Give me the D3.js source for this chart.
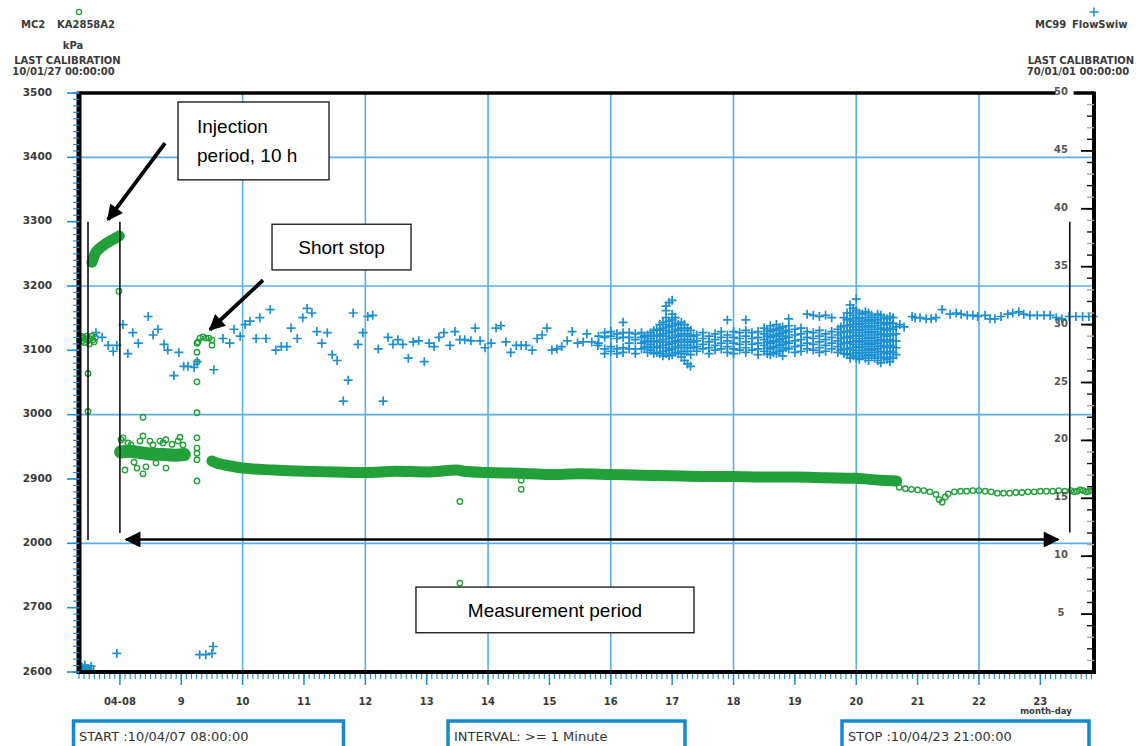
<!DOCTYPE html>
<html>
<head>
<meta charset="utf-8">
<script src="https://cdn.jsdelivr.net/npm/d3@7"></script>
<style>
body{margin:0;background:#fff}
svg{display:block}
</style>
</head>
<body>
<svg id="chart" width="1136" height="746"></svg>
<script>
// axis ticks / labels
var dayTicks = [8, 9, 10, 11, 12, 13, 14, 15, 16, 17, 18, 19, 20, 21, 22, 23];
var dayLabels = ["04-08", "9", "10", "11", "12", "13", "14", "15", "16", "17", "18", "19", "20", "21", "22", "23"];
var gridDays = [10, 12, 14, 16, 18, 20, 22];
var leftTicks = [2600, 2700, 2800, 2900, 3000, 3100, 3200, 3300, 3400, 3500];
var leftLabels = ["2600", "2700", "2000", "2900", "3000", "3100", "3200", "3300", "3400", "3500"];
var gridKpa = [2800, 3000, 3200, 3400];
var rightTicks = [5, 10, 15, 20, 25, 30, 35, 40, 45, 50];

// pressure, kPa (green) - dense bands
var injDays = [7.545, 7.594, 7.676, 7.757, 7.839, 7.920, 7.99];
var injKpa  = [3237, 3250, 3259, 3265, 3270, 3274, 3278];
var postDays = [8.01, 8.15, 8.33, 8.5, 8.7, 8.9, 9.05];
var postKpa  = [2942, 2943, 2941, 2939, 2938, 2937, 2938];
var mainDays = [9.50, 9.6, 9.75, 10.0, 10.5, 11.0, 11.5, 12.0, 12.5, 13.0, 13.5, 13.6, 14.0, 14.5, 15.0, 15.5, 16.0, 16.5, 17.0, 17.5, 18.0, 18.5, 19.0, 19.5, 20.0, 20.4, 20.66];
var mainKpa  = [2928, 2924, 2921, 2917, 2914, 2912, 2911, 2910, 2912, 2911, 2914, 2912, 2910, 2909, 2907, 2908, 2907, 2906, 2905, 2904, 2904, 2903, 2903, 2902, 2901, 2898, 2897];

// pressure, kPa (green) - single readings
var greenDays = [7.34, 7.36, 7.38, 7.40, 7.42, 7.44, 7.46, 7.48, 7.50, 7.52, 7.54, 7.56, 7.58, 7.60,
  7.35, 7.38, 7.42, 7.46, 7.50, 7.53, 7.48, 7.48, 7.985,
  8.018, 8.050, 8.083, 8.132, 8.181, 8.230, 8.279, 8.327, 8.376, 8.376, 8.425, 8.490, 8.539, 8.588, 8.654, 8.702, 8.751, 8.751, 8.800, 8.849, 8.947, 8.979, 9.028, 8.376,
  9.256, 9.256, 9.256, 9.256, 9.256, 9.256, 9.256, 9.256, 9.256, 9.256,
  9.273, 9.305, 9.354, 9.403, 9.452, 9.501, 9.501,
  13.54, 13.54, 14.54, 14.54,
  20.7, 20.8, 20.9, 21.0, 21.1, 21.2, 21.3, 21.35, 21.4, 21.45, 21.5, 21.6, 21.7, 21.8, 21.9, 22.0, 22.1, 22.2, 22.3, 22.4, 22.5, 22.6, 22.7, 22.8, 22.9, 23.0, 23.1, 23.2, 23.3, 23.4, 23.5, 23.55, 23.6, 23.65, 23.7, 23.75, 23.8, 23.85];
var greenKpa = [3117, 3122, 3114, 3120, 3112, 3118, 3122, 3115, 3110, 3118, 3122, 3116, 3113, 3120,
  2603, 2605, 2602, 2604, 2603, 2606, 3064, 3005, 3192,
  2961, 2964, 2914, 2956, 2953, 2926, 2917, 2959, 2967, 2908, 2919, 2959, 2953, 2925, 2959, 2956, 2961, 2917, 2933, 2954, 2959, 2965, 2953, 2996,
  2897, 2930, 2940, 2948, 2964, 3003, 3051, 3082, 3097, 3111,
  3113, 3119, 3121, 3119, 3119, 3116, 3108,
  2865, 2738, 2898, 2884,
  2887, 2885, 2884, 2883, 2882, 2880, 2876, 2868, 2864, 2872, 2877, 2880, 2881, 2881, 2882, 2882, 2881, 2880, 2878, 2878, 2878, 2879, 2879, 2880, 2880, 2881, 2881, 2881, 2882, 2881, 2882, 2880, 2881, 2883, 2882, 2880, 2881, 2882];

// flow (blue) - single readings
var blueDays = [7.38, 7.43, 7.48, 7.53, 7.95, 9.30, 9.40, 9.50, 9.52,
  7.61, 7.71, 7.81, 7.89, 7.95, 8.05, 8.13, 8.21, 8.30, 8.46, 8.54, 8.62, 8.72, 8.78, 8.88, 8.96, 9.04, 9.11, 9.21, 9.26,
  9.53, 9.68, 9.79, 9.86, 9.96, 10.04, 10.12, 10.22, 10.28, 10.38, 10.45, 10.54, 10.63, 10.72, 10.79, 10.89,
  10.98, 11.05, 11.13, 11.21, 11.29, 11.38, 11.46, 11.54, 11.64, 11.72, 11.80, 11.88, 11.96, 12.04, 12.12, 12.21, 12.29, 12.37, 12.45, 12.53, 12.61, 12.70, 12.78, 12.87, 12.96,
  13.04, 13.12, 13.20, 13.28, 13.38, 13.46, 13.54, 13.62, 13.72, 13.79, 13.87, 13.95, 14.05, 14.13, 14.21, 14.29, 14.37, 14.46, 14.54, 14.62, 14.72, 14.80, 14.88, 14.96,
  15.04, 15.12, 15.20, 15.29, 15.37, 15.46, 15.55, 15.61, 15.69, 15.79,
  20.71, 20.78, 20.91, 20.96, 21.04, 21.14, 21.22, 21.30, 21.40, 21.53, 21.63, 21.71, 21.81, 21.90, 21.98, 22.10, 22.18, 22.26, 22.36, 22.47, 22.55, 22.65, 22.73, 22.83, 22.95, 23.06, 23.16, 23.26, 23.35, 23.47, 23.58, 23.69, 23.79, 23.86];
var blueFlow = [0.4, 0.6, 0.3, 0.5, 1.6, 1.5, 1.5, 1.6, 2.2,
  29.3, 28.9, 28.2, 27.7, 28.2, 30.0, 27.5, 29.3, 28.4, 30.7, 29.1, 29.6, 28.3, 27.8, 25.6, 27.6, 26.4, 26.4, 26.3, 26.8,
  26.1, 28.8, 28.4, 29.6, 29.0, 30.0, 30.3, 28.8, 30.6, 28.8, 31.3, 27.8, 28.1, 28.1, 29.7, 28.8,
  30.6, 31.4, 31.0, 29.4, 28.4, 29.3, 27.4, 26.9, 23.4, 25.2, 31.0, 28.3, 29.3, 30.7, 30.8, 27.9, 23.4, 28.9, 28.3, 28.7, 28.3, 27.1, 28.5, 28.6, 26.8,
  28.4, 28.1, 28.9, 29.3, 28.2, 29.4, 28.7, 28.7, 28.6, 29.7, 28.6, 28.0, 28.4, 29.7, 29.9, 28.5, 27.6, 28.2, 28.2, 28.2, 27.8, 28.8, 29.1, 29.7,
  27.8, 27.9, 28.1, 28.6, 29.4, 28.4, 28.5, 29.2, 28.5, 28.2,
  30.0, 29.8, 30.7, 30.6, 30.6, 30.5, 30.5, 30.6, 31.3, 30.9, 31.0, 30.9, 30.8, 30.8, 30.7, 30.8, 30.5, 30.5, 30.7, 30.9, 31.0, 31.1, 30.9, 30.8, 30.8, 30.8, 30.8, 30.6, 30.5, 30.7, 30.7, 30.7, 30.7, 30.7];

// flow (blue) - dense period, several readings per time step
var denseDays = [15.8, 15.9, 16.0, 16.1, 16.2, 16.3, 16.4, 16.5, 16.55,
  16.6, 16.65, 16.7, 16.75, 16.8, 16.85, 16.9, 16.95, 17.0, 17.05, 17.1, 17.15, 17.2, 17.25, 17.3, 17.35,
  17.4, 17.5, 17.6, 17.7, 17.8, 17.9, 18.0, 18.1, 18.2, 18.3, 18.4, 18.5, 18.55, 18.6, 18.65, 18.7, 18.75, 18.8, 18.85, 18.9,
  19.0, 19.1, 19.2, 19.3, 19.4, 19.5, 19.6, 19.7, 19.75,
  19.8, 19.85, 19.9, 19.95, 20.0, 20.05, 20.1, 20.15, 20.2, 20.25, 20.3, 20.35, 20.4, 20.45, 20.5, 20.55, 20.6, 20.65];
var denseFlow = [
  [29.0, 28.4], [29.3, 28.9, 27.9, 27.5], [29.4, 29.0, 28.1, 27.7], [29.2, 28.8, 27.9, 27.5], [30.2, 29.3, 28.9, 28.0, 27.6],
  [29.3, 28.9, 28.4, 27.9], [29.2, 28.7, 27.9, 27.5], [29.3, 28.9, 28.4, 27.9], [29.0, 28.5, 28.0],
  [29.1, 28.6, 28.1, 27.6], [29.3, 28.8, 28.3, 27.8], [29.5, 29.0, 28.5, 28.0, 27.5], [29.6, 29.1, 28.6, 28.1, 27.6],
  [30.0, 29.5, 29.0, 28.5, 28.0, 27.5], [30.2, 29.7, 29.2, 28.7, 28.2, 27.7, 27.3],
  [31.6, 31.2, 30.6, 30.0, 29.5, 29.0, 28.5, 28.0, 27.5], [31.9, 30.3, 29.8, 29.3, 28.8, 28.3, 27.8, 27.3],
  [32.1, 30.9, 30.4, 29.9, 29.4, 28.9, 28.4, 27.9, 27.4], [30.6, 30.1, 29.6, 29.1, 28.6, 28.1, 27.6],
  [30.0, 29.5, 29.0, 28.5, 28.0, 27.5], [30.2, 29.7, 29.2, 28.7, 28.2, 27.7, 27.2], [30.0, 29.5, 29.0, 28.5, 28.0, 27.5, 26.9],
  [29.7, 29.2, 28.7, 28.2, 27.7, 26.6], [29.5, 29.0, 28.5, 28.0, 27.4, 26.4], [29.0, 28.5, 28.0],
  [29.1, 28.6, 28.1, 27.7], [29.3, 28.8, 28.3, 27.9], [29.0, 28.5, 28.0, 27.5], [29.2, 28.7, 28.2, 27.8], [29.4, 28.9, 28.4, 27.9],
  [30.4, 29.1, 28.6, 28.1, 27.6], [29.4, 28.9, 28.4, 27.9, 27.5], [29.3, 28.8, 28.3, 27.8], [30.4, 29.5, 29.0, 28.5, 28.0, 27.6],
  [29.3, 28.8, 28.3, 27.8], [29.4, 28.9, 28.4, 27.9, 27.4], [29.7, 29.2, 28.7, 28.2, 27.7], [29.5, 29.0, 28.5, 28.0, 27.5],
  [29.9, 29.4, 28.9, 28.4, 27.9, 27.4], [29.6, 29.1, 28.6, 28.1, 27.6], [30.0, 29.5, 29.0, 28.5, 28.0, 27.5],
  [29.7, 29.2, 28.7, 28.2, 27.7], [29.8, 29.3, 28.8, 28.3, 27.8, 27.3], [29.5, 29.0, 28.5, 28.0], [30.5, 29.9, 29.4, 28.9, 28.4, 27.9],
  [29.6, 29.1, 28.6, 28.1, 27.6], [29.7, 29.2, 28.7, 28.2, 27.7], [30.9, 29.4, 28.9, 28.4, 27.9], [30.8, 29.3, 28.8, 28.3, 27.8],
  [30.7, 29.5, 29.0, 28.5, 28.0, 27.6], [30.8, 29.2, 28.7, 28.2, 27.7], [30.6, 29.4, 28.9, 28.4, 27.9], [29.6, 29.1, 28.6, 28.1, 27.6],
  [29.8, 29.3, 28.8, 28.3, 27.8],
  [30.6, 29.9, 29.4, 28.9, 28.4, 27.9, 27.5], [31.0, 30.4, 29.9, 29.4, 28.9, 28.4, 27.9, 27.4],
  [31.7, 31.0, 30.5, 30.0, 29.5, 29.0, 28.5, 28.0, 27.5, 27.1], [31.4, 30.8, 30.3, 29.8, 29.3, 28.8, 28.3, 27.8, 27.3],
  [32.2, 31.2, 30.6, 30.1, 29.6, 29.1, 28.6, 28.1, 27.6, 27.1], [31.0, 30.5, 30.0, 29.5, 29.0, 28.5, 28.0, 27.5, 27.0],
  [30.9, 30.3, 29.8, 29.3, 28.8, 28.3, 27.8, 27.3], [31.1, 30.6, 30.1, 29.6, 29.1, 28.6, 28.1, 27.6, 27.1],
  [31.0, 30.4, 29.9, 29.4, 28.9, 28.4, 27.9, 27.4, 26.9], [30.8, 30.3, 29.8, 29.3, 28.8, 28.3, 27.8, 27.3],
  [30.6, 30.1, 29.6, 29.1, 28.6, 28.1, 27.6, 27.1], [30.9, 30.4, 29.9, 29.4, 28.9, 28.4, 27.9, 27.4, 26.9],
  [30.8, 30.2, 29.7, 29.2, 28.7, 28.2, 27.7, 27.2, 26.7], [30.6, 30.1, 29.6, 29.1, 28.6, 28.1, 27.6, 27.1],
  [30.5, 30.0, 29.5, 29.0, 28.5, 28.0, 27.5, 27.0], [30.7, 30.2, 29.7, 29.2, 28.7, 28.2, 27.7, 27.2, 26.8],
  [30.6, 30.1, 29.6, 29.1, 28.6, 28.1, 27.6, 27.1], [29.8, 29.2, 28.6, 28.0, 27.4]];

var GREEN = "#22a03a", BLUE = "#1a8fd3", GRID = "#5aaee6", TXT = "#3a3a3a";

var svg = d3.select("#chart");
var x = d3.scaleLinear().domain([7 + 8 / 24, 23 + 21 / 24]).range([79, 1094]);
var yL = d3.scaleLinear().domain([2600, 3500]).range([672, 93]);
var yR = d3.scaleLinear().domain([0, 50]).range([672, 93]);
var x0 = 79, x1 = 1094, y0 = 93, y1 = 672;

// grid
var grid = svg.append("g").attr("stroke", GRID).attr("stroke-width", 1.6);
grid.selectAll("line.v").data(gridDays).join("line")
  .attr("x1", d => x(d)).attr("x2", d => x(d)).attr("y1", y0).attr("y2", y1);
grid.selectAll("line.h").data(gridKpa).join("line")
  .attr("x1", x0).attr("x2", x1).attr("y1", d => yL(d)).attr("y2", d => yL(d));

// green dense bands
var line = d3.line().x(d => x(d[0])).y(d => yL(d[1])).curve(d3.curveMonotoneX);
[[injDays, injKpa, 11], [postDays, postKpa, 13], [mainDays, mainKpa, 11]].forEach(function (b) {
  svg.append("path").datum(d3.zip(b[0], b[1]))
    .attr("d", line).attr("fill", "none").attr("stroke", GREEN)
    .attr("stroke-width", b[2]).attr("stroke-linecap", "round");
});

// green single readings
svg.append("g").selectAll("circle").data(d3.zip(greenDays, greenKpa)).join("circle")
  .attr("cx", d => x(d[0])).attr("cy", d => yL(d[1])).attr("r", 2.7)
  .attr("fill", "none").attr("stroke", GREEN).attr("stroke-width", 1.4);

// blue crosses
var cross = "M-4.5,0H4.5M0,-4.5V4.5";
var bluePts = d3.zip(blueDays, blueFlow);
denseDays.forEach(function (d, i) { denseFlow[i].forEach(function (v) { bluePts.push([d, v]); }); });
svg.append("g").selectAll("path").data(bluePts).join("path")
  .attr("transform", d => "translate(" + x(d[0]) + "," + yR(d[1]) + ")")
  .attr("d", cross).attr("stroke", BLUE).attr("stroke-width", 1.7).attr("fill", "none");

// frame
var frame = svg.append("g").attr("stroke", "#000");
frame.append("line").attr("x1", x0).attr("x2", x0).attr("y1", y0 - 1.5).attr("y2", y1 + 2).attr("stroke-width", 5);
frame.append("line").attr("x1", x1).attr("x2", x1).attr("y1", y0 - 1.5).attr("y2", y1 + 2).attr("stroke-width", 4);
frame.append("line").attr("x1", x0).attr("x2", x1).attr("y1", y0).attr("y2", y0).attr("stroke-width", 3.5);
frame.append("line").attr("x1", x0).attr("x2", x1).attr("y1", y1).attr("y2", y1).attr("stroke-width", 4);

// left axis
var la = svg.append("g");
la.selectAll("line.mn").data(d3.range(2600, 3501, 10)).join("line")
  .attr("x1", x0 - 6).attr("x2", x0).attr("y1", d => yL(d)).attr("y2", d => yL(d))
  .attr("stroke", BLUE).attr("stroke-width", 1.2);
la.selectAll("line.mj").data(leftTicks).join("line")
  .attr("x1", x0 - 12).attr("x2", x0).attr("y1", d => yL(d)).attr("y2", d => yL(d))
  .attr("stroke", BLUE).attr("stroke-width", 1.6);
la.selectAll("text").data(leftTicks).join("text")
  .attr("x", 52).attr("y", d => yL(d) - 1).attr("dy", "0.35em").attr("text-anchor", "end")
  .attr("font-family", "DejaVu Sans").attr("font-weight", "bold").attr("font-size", 10.5).attr("fill", TXT)
  .text((d, i) => leftLabels[i]);

// right axis
var ra = svg.append("g");
ra.selectAll("line.mn").data(d3.range(0, 51, 1)).join("line")
  .attr("x1", x1 - 7).attr("x2", x1).attr("y1", d => yR(d)).attr("y2", d => yR(d))
  .attr("stroke", (d, i) => i % 2 ? "#aaa" : "#111").attr("stroke-width", 1.4);
ra.selectAll("line.mj").data(rightTicks).join("line")
  .attr("x1", x1 - 13).attr("x2", x1).attr("y1", d => yR(d)).attr("y2", d => yR(d))
  .attr("stroke", "#000").attr("stroke-width", 1.8);
ra.append("rect").attr("x", x(23.25)).attr("y", y0 - 5).attr("width", 18).attr("height", 10).attr("fill", "#fff");
ra.selectAll("text").data(rightTicks).join("text")
  .attr("x", 1061).attr("y", d => yR(d) - 1.5).attr("dy", "0.35em").attr("text-anchor", "middle")
  .attr("font-family", "DejaVu Sans").attr("font-weight", "bold").attr("font-size", 10).attr("fill", "#555")
  .text(d => d);

// bottom axis
var ba = svg.append("g");
ba.selectAll("line.mn").data(d3.range(88, 287).map(h => h / 12)).join("line")
  .attr("x1", d => x(d)).attr("x2", d => x(d)).attr("y1", y1 + 2).attr("y2", y1 + 7)
  .attr("stroke", BLUE).attr("stroke-width", 1.1);
ba.selectAll("line.mj").data(dayTicks).join("line")
  .attr("x1", d => x(d)).attr("x2", d => x(d)).attr("y1", y1 + 2).attr("y2", y1 + 13)
  .attr("stroke", BLUE).attr("stroke-width", 1.5);
ba.selectAll("text").data(dayTicks).join("text")
  .attr("x", d => x(d)).attr("y", 701).attr("dy", "0.35em").attr("text-anchor", "middle")
  .attr("font-family", "DejaVu Sans").attr("font-weight", "bold").attr("font-size", 10).attr("fill", TXT)
  .text((d, i) => dayLabels[i]);
ba.append("text").attr("x", 1046).attr("y", 711).attr("dy", "0.35em").attr("text-anchor", "middle")
  .attr("font-family", "DejaVu Sans").attr("font-weight", "bold").attr("font-size", 8.5).attr("fill", TXT)
  .text("month-day");

// headers
function htext(tx, ty, s, anchor) {
  svg.append("text").attr("x", tx).attr("y", ty).attr("dy", "0.35em").attr("text-anchor", anchor || "middle")
    .attr("font-family", "DejaVu Sans").attr("font-weight", "bold").attr("font-size", 10).attr("fill", TXT).text(s);
}
svg.append("circle").attr("cx", 79).attr("cy", 12).attr("r", 2.6).attr("fill", "none").attr("stroke", GREEN).attr("stroke-width", 1.4);
htext(21, 24, "MC2", "start");
htext(57, 24, "KA2858A2", "start");
htext(73, 45, "kPa");
htext(67.5, 60, "LAST CALIBRATION");
htext(63.5, 71, "10/01/27 00:00:00");
svg.append("path").attr("transform", "translate(1094,12)").attr("d", cross).attr("stroke", BLUE).attr("stroke-width", 1.5);
htext(1035, 24, "MC99", "start");
htext(1072, 24, "FlowSwiw", "start");
htext(1081, 60, "LAST CALIBRATION");
htext(1078, 71, "70/01/01 00:00:00");

// info boxes
[[73.5, 270, 79, "START :10/04/07 08:00:00"], [448, 237, 454, "INTERVAL: >= 1 Minute"], [842, 247, 848, "STOP :10/04/23 21:00:00"]].forEach(function (b) {
  svg.append("rect").attr("x", b[0]).attr("y", 721).attr("width", b[1]).attr("height", 32)
    .attr("fill", "#fff").attr("stroke", "#1488d0").attr("stroke-width", 3.5);
  svg.append("text").attr("x", b[2]).attr("y", 736).attr("dy", "0.35em")
    .attr("font-family", "DejaVu Sans").attr("font-size", 13).attr("fill", "#333").text(b[3]);
});

// annotations (in data units)
var defs = svg.append("defs");
defs.append("marker").attr("id", "ah").attr("viewBox", "0 0 10 10").attr("refX", 9).attr("refY", 5)
  .attr("markerWidth", 20).attr("markerHeight", 16).attr("markerUnits", "userSpaceOnUse").attr("orient", "auto-start-reverse")
  .append("path").attr("d", "M0,0L10,5L0,10z").attr("fill", "#000");

var ann = svg.append("g");
[[7.48, 3300, 2805], [8.0, 3300, 2816], [23.48, 3300, 2817]].forEach(function (l) {
  ann.append("line").attr("x1", x(l[0])).attr("x2", x(l[0])).attr("y1", yL(l[1])).attr("y2", yL(l[2]))
    .attr("stroke", "#111").attr("stroke-width", 1.6);
});
ann.append("line").attr("x1", x(8.735)).attr("y1", yL(3422)).attr("x2", x(7.806)).attr("y2", yL(3303))
  .attr("stroke", "#000").attr("stroke-width", 3.8).attr("marker-end", "url(#ah)");
ann.append("line").attr("x1", x(10.332)).attr("y1", yL(3209)).attr("x2", x(9.468)).attr("y2", yL(3132))
  .attr("stroke", "#000").attr("stroke-width", 3.8).attr("marker-end", "url(#ah)");
ann.append("line").attr("x1", x(8.1)).attr("y1", yL(2806)).attr("x2", x(23.29)).attr("y2", yL(2806))
  .attr("stroke", "#000").attr("stroke-width", 2.5).attr("marker-start", "url(#ah)").attr("marker-end", "url(#ah)");

function abox(dx0, dx1, k0, k1, lines, tx) {
  ann.append("rect").attr("x", x(dx0)).attr("y", yL(k0)).attr("width", x(dx1) - x(dx0)).attr("height", yL(k1) - yL(k0))
    .attr("fill", "#fff").attr("stroke", "#111").attr("stroke-width", 1.3);
  var cy = (yL(k0) + yL(k1)) / 2;
  lines.forEach(function (s, i) {
    ann.append("text").attr("x", tx == null ? (x(dx0) + x(dx1)) / 2 : x(dx0) + tx)
      .attr("y", cy + (i - (lines.length - 1) / 2) * 29).attr("dy", "0.35em")
      .attr("text-anchor", tx == null ? "middle" : "start")
      .attr("font-family", "Liberation Sans, Arial").attr("font-size", 19).attr("fill", "#000").text(s);
  });
}
abox(8.947, 11.408, 3486, 3365, ["Injection", "period, 10 h"], 19);
abox(10.479, 12.744, 3296, 3225, ["Short stop"]);
abox(12.825, 17.356, 2732, 2661, ["Measurement period"]);
</script>
</body>
</html>
